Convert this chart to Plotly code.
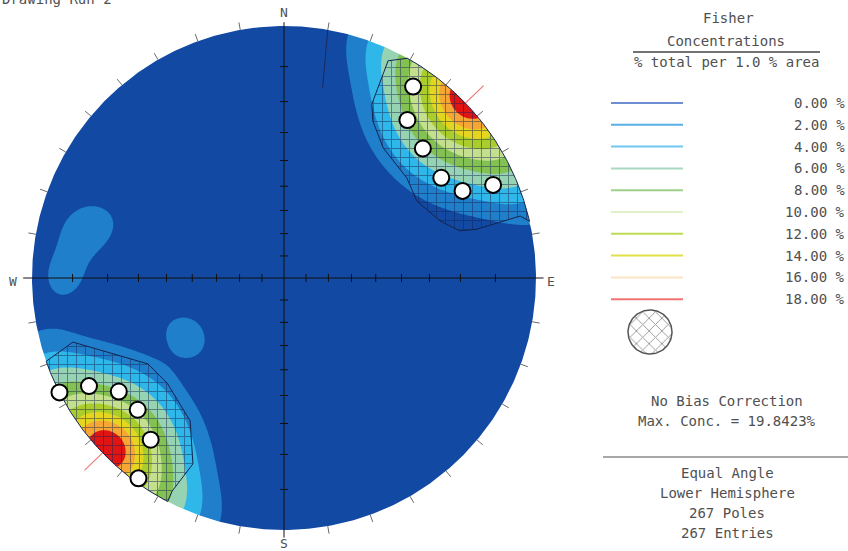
import numpy as np
import plotly.graph_objects as go

# ---------------------------------------------------------------- data
title_text = "Drawing Run 2"

# pole orientations: trend (deg), plunge (deg) and number of poles
pole_trend = [194, 202, 210, 218, 226, 234, 242, 250, 258,
              202, 210, 218, 226, 234, 242, 250,
              22, 30, 38, 46, 54, 62, 70,
              202, 210, 218, 226, 234, 242, 250,
              22, 30, 38, 46, 54, 62, 70,
              210, 218, 226, 234, 242,
              30, 38, 46, 54, 62,
              226, 221, 231, 226, 46,
              270, 283, 287, 232, 241, 246,
              10, 120, 160, 300, 340, 100,
              75, 95, 140, 180, 320, 355, 5, 200, 265,
              150, 60, 330, 170, 310, 135, 80, 345, 45, 215]
pole_plunge = [0, 0, 0, 0, 0, 0, 0, 0, 0,
               8, 8, 8, 8, 8, 8, 8,
               8, 8, 8, 8, 8, 8, 8,
               16, 16, 16, 16, 16, 16, 16,
               16, 16, 16, 16, 16, 16, 16,
               24, 24, 24, 24, 24,
               24, 24, 24, 24, 24,
               2, 2, 2, 6, 2,
               8, 11, 16, 41, 44, 38,
               60, 45, 30, 25, 15, 70,
               40, 20, 15, 55, 40, 50, 80, 60, 35,
               75, 55, 70, 10, 5, 60, 65, 30, 75, 72]
pole_count = [1, 5, 8, 10, 11, 10, 8, 5, 1,
              2, 5, 7, 8, 7, 5, 2,
              2, 5, 7, 8, 7, 5, 2,
              1, 3, 5, 5, 5, 3, 1,
              1, 3, 5, 5, 5, 3, 1,
              1, 2, 3, 2, 1,
              1, 2, 3, 2, 1,
              11, 3, 3, 2, 2,
              6, 5, 4, 4, 4, 3,
              1, 1, 1, 1, 1, 1,
              1, 1, 1, 1, 1, 1, 1, 1, 1,
              1, 1, 1, 1, 1, 1, 1, 1, 1, 1]

n_poles = 267
n_entries = 267
max_conc = 19.8423          # % total per 1 % area
fisher_k = 80.0

levels = [0, 2, 4, 6, 8, 10, 12, 14, 16, 18]
level_labels = ["0.00 %", "2.00 %", "4.00 %", "6.00 %", "8.00 %",
                "10.00 %", "12.00 %", "14.00 %", "16.00 %", "18.00 %"]
band_colors = ["#1249a3", "#1f7fcb", "#2fb7ea", "#96d3b3", "#83c152",
               "#c4df8e", "#abcd2c", "#e5d51e", "#f6a733", "#e11414"]
legend_colors = ["#6d8fd2", "#5aaee6", "#6ec8ef", "#a9d8c2", "#9fd08a",
                 "#e2efc9", "#bcdc55", "#e0e046", "#fbe6c3", "#f07474"]

# set window (hatched), NE and SW parts: boundary trend / plunge
win_ne_trend = [29.3, 25.6, 26.8, 29.5, 37.3, 50.9, 59.9, 69.9, 75.0, 75.8, 75.3, 77.0]
win_ne_plunge = [0.0, 2.6, 14.6, 18.8, 24.0, 25.7, 27.3, 23.2, 18.3, 13.4, 1.8, 0.0]
win_sw_trend = [250.7, 253.1, 237.7, 228.0, 213.3, 206.1, 207.7, 207.5]
win_sw_plunge = [0.0, 7.6, 24.9, 26.1, 21.7, 11.2, 2.6, 0.0]

# highlighted poles
mark_trend = [34, 38, 47, 57.5, 64, 66, 243, 241, 235.5, 228, 219.5, 216]
mark_plunge = [5, 13, 16, 17, 13.5, 5.5, 0, 7, 13, 14, 10.5, 1]

# short trace near north
trace_trend = [10.0, 11.5]
trace_plunge = [0.0, 15.0]

# ---------------------------------------------------------------- geometry
W, H = 848, 551
CX, CY, RPX = 284.0, 278.0, 252.0


def to_xy(px, py):
    return (px - CX) / RPX, (CY - py) / RPX


def project(trend, plunge):
    t = np.radians(np.asarray(trend, float))
    p = np.radians(np.asarray(plunge, float))
    r = np.tan((np.pi / 2 - p) / 2)
    return r * np.sin(t), r * np.cos(t)


def to_vec(trend, plunge):
    t = np.radians(np.asarray(trend, float))
    p = np.radians(np.asarray(plunge, float))
    return np.cos(p) * np.cos(t), np.cos(p) * np.sin(t), np.sin(p)


# ---------------------------------------------------------------- density
gx = np.linspace(-1.14, 1.14, 481)
gy = np.linspace(-1.10, 1.12, 469)
GX, GY = np.meshgrid(gx, gy)
GR = np.hypot(GX, GY)
g_plunge = 90 - 2 * np.degrees(np.arctan(GR))
g_trend = np.degrees(np.arctan2(GX, GY)) % 360
gn, ge, gd = to_vec(g_trend, g_plunge)
pn, pe, pd = to_vec(pole_trend, pole_plunge)

dens = np.zeros_like(GX)
for i in range(len(pole_count)):
    c = np.abs(gn * pn[i] + ge * pe[i] + gd * pd[i])
    dens += pole_count[i] * np.exp(fisher_k * (c - 1))
pct = 100.0 * dens / float(sum(pole_count))
inside = GR <= 1.0
pct = pct * max_conc / pct[inside].max()
imax = np.argmax(np.where(inside, pct, -1))
trend_max = g_trend.flat[imax]

# ---------------------------------------------------------------- figure
fig = go.Figure()

scale = [[0.0, band_colors[0]]] + [[(i + 1) / 10, band_colors[i]] for i in range(10)]
fig.add_trace(go.Contour(
    x=gx, y=gy, z=pct, autocontour=False,
    contours=dict(start=levels[0], end=levels[-1], size=levels[1] - levels[0],
                  coloring="fill", showlines=False),
    colorscale=scale, showscale=False, line=dict(width=0),
    hoverinfo="skip"))

# white surround outside the primitive
xa0, xa1 = -CX / RPX - 0.02, 1.15
ya0, ya1 = -(H - CY) / RPX - 0.02, CY / RPX + 0.02
th = np.linspace(-np.pi / 2, -np.pi / 2 - 2 * np.pi, 721)
mask_x = [0, xa1, xa1, xa0, xa0, 0] + list(np.cos(th)) + [0]
mask_y = [ya0, ya0, ya1, ya1, ya0, ya0] + list(np.sin(th)) + [ya0]
fig.add_trace(go.Scatter(x=mask_x, y=mask_y, mode="lines", fill="toself",
                         fillcolor="white", line=dict(width=0),
                         hoverinfo="skip", showlegend=False))


def window_polygon(trends, plunges):
    x, y = project(trends, plunges)
    arc_t = np.linspace(trends[-1], trends[0], 80)
    ax, ay = project(arc_t, np.zeros_like(arc_t))
    return np.r_[x, ax, x[:1]], np.r_[y, ay, y[:1]]


hatch_col = "#15234f"
for tr, pl in ((win_ne_trend, win_ne_plunge), (win_sw_trend, win_sw_plunge)):
    wx, wy = window_polygon(tr, pl)
    fig.add_trace(go.Scatter(
        x=wx, y=wy, mode="lines", fill="toself", fillcolor="rgba(0,0,0,0)",
        fillpattern=dict(shape="+", size=9, solidity=0.2, fgcolor=hatch_col),
        line=dict(color=hatch_col, width=1), hoverinfo="skip", showlegend=False))

tx, ty = project(trace_trend, trace_plunge)
fig.add_trace(go.Scatter(x=tx, y=ty, mode="lines", line=dict(color="#1a2a60", width=1),
                         hoverinfo="skip", showlegend=False))

mx, my = project(mark_trend, mark_plunge)
fig.add_trace(go.Scatter(x=mx, y=my, mode="markers",
                         marker=dict(size=16, color="white", line=dict(color="black", width=2)),
                         hoverinfo="skip", showlegend=False))

# legend hatch symbol
lcx, lcy = to_xy(650, 332)
lr = 22 / RPX
tt = np.linspace(0, 2 * np.pi, 121)
fig.add_trace(go.Scatter(
    x=lcx + lr * np.cos(tt), y=lcy + lr * np.sin(tt), mode="lines", fill="toself",
    fillcolor="rgba(0,0,0,0)",
    fillpattern=dict(shape="x", size=9, solidity=0.2, fgcolor="#333333"),
    line=dict(color="#555555", width=1.5), hoverinfo="skip", showlegend=False))

shapes = []


def seg(x0, y0, x1, y1, color, width):
    shapes.append(dict(type="line", xref="x", yref="y", x0=x0, y0=y0, x1=x1, y1=y1,
                       line=dict(color=color, width=width), layer="above"))


# primitive ticks every 10 degrees
for t in range(0, 360, 10):
    if t % 90 == 0:
        continue
    s, c = np.sin(np.radians(t)), np.cos(np.radians(t))
    seg(s, c, 1.03 * s, 1.03 * c, "#6a6a6a", 1)

# axes through the centre with plunge ticks
seg(0, -1.03, 0, 1.015, "#111111", 1)
seg(-1.035, 0, 1.03, 0, "#111111", 1)
for p in range(10, 90, 10):
    r = np.tan(np.radians(90 - p) / 2)
    for sgn in (-1, 1):
        seg(-0.016, sgn * r, 0.016, sgn * r, "#111111", 1)
        seg(sgn * r, -0.016, sgn * r, 0.016, "#111111", 1)

# maximum concentration direction
for t in (trend_max, trend_max + 180):
    s, c = np.sin(np.radians(t)), np.cos(np.radians(t))
    seg(s, c, 1.1 * s, 1.1 * c, "#e87a7a", 1.2)

# legend lines
for i in range(len(levels)):
    yy = 103 + i * 21.8
    x0, y0 = to_xy(611, yy)
    x1, _ = to_xy(683, yy)
    seg(x0, y0, x1, y0, legend_colors[i], 2)

a0, b0 = to_xy(633, 52)
a1, _ = to_xy(820, 52)
seg(a0, b0, a1, b0, "#444444", 1.3)
a0, b0 = to_xy(603, 457)
a1, _ = to_xy(850, 457)
seg(a0, b0, a1, b0, "#a8a8a8", 2)

FONT = "DejaVu Sans Mono"
annotations = []


def label(text, px, py, size=14, xanchor="center", yanchor="middle", color="#505050"):
    x, y = to_xy(px, py)
    annotations.append(dict(text=text, x=x, y=y, xref="x", yref="y", showarrow=False,
                            xanchor=xanchor, yanchor=yanchor,
                            font=dict(family=FONT, size=size, color=color)))


label(title_text, 0, 9, size=14, xanchor="left", yanchor="bottom")
label("N", 284, 12, size=13)
label("S", 284, 543, size=13)
label("W", 13, 281, size=13)
label("E", 551, 281, size=13)

label("Fisher", 728, 18)
label("Concentrations", 726, 41)
label("% total per 1.0 % area", 726, 62)
for i, txt in enumerate(level_labels):
    label(txt, 847, 103 + i * 21.8, xanchor="right")

label("No Bias Correction", 727, 401)
label("Max. Conc. = %.4f%%" % max_conc, 727, 421)
label("Equal Angle", 727, 473)
label("Lower Hemisphere", 727, 493)
label("%d Poles" % n_poles, 727, 513)
label("%d Entries" % n_entries, 727, 533)

fig.update_layout(
    width=W, height=H, margin=dict(l=0, r=0, t=0, b=0),
    paper_bgcolor="white", plot_bgcolor="white", showlegend=False,
    xaxis=dict(range=[-CX / RPX, (W - CX) / RPX], domain=[0, 1], visible=False, fixedrange=True),
    yaxis=dict(range=[-(H - CY) / RPX, CY / RPX], domain=[0, 1], visible=False, fixedrange=True),
    shapes=shapes, annotations=annotations)

fig.write_html("out.html")
